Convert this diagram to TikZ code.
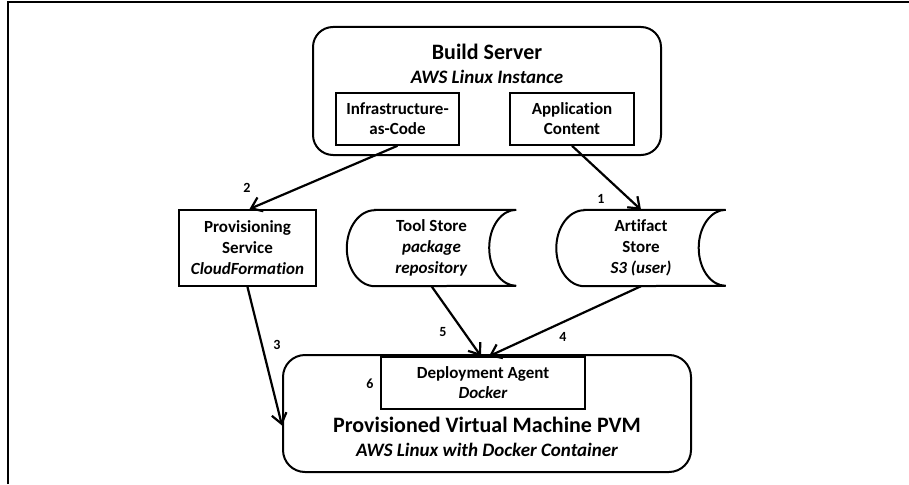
\documentclass[tikz,border=0pt]{standalone}
\usepackage{fontspec}
\setmainfont{Carlito}[Ligatures=NoCommon]
\usetikzlibrary{arrows.meta,positioning}

\begin{document}
\begin{tikzpicture}[x=1pt, y=1pt,
    server/.style={draw, line width=2pt, rounded corners=20pt, inner sep=0pt},
    unit/.style={draw, line width=1.6pt, inner sep=0pt, align=center, font=\fontsize{17}{20}\selectfont\bfseries},
    store/.style={inner sep=0pt, minimum width=169pt, minimum height=76pt, align=center, font=\fontsize{17}{21}\selectfont\bfseries},
    flow/.style={-{Straight Barb[length=10pt, width=15pt]}, line width=2.2pt},
    stepnum/.style={font=\fontsize{14}{16}\selectfont\bfseries},
    title/.style={align=center, font=\fontsize{22}{25}\selectfont\bfseries},
    subtitle/.style={font=\fontsize{19}{22}\selectfont\bfseries\itshape}
]
    \useasboundingbox (0,0) rectangle (909,-484);
    \draw[line width=2pt] (8,-484) -- (8,-2) -- (909,-2);

    % build server
    \node[server, minimum width=348pt, minimum height=128pt] (build) at (487,-91) {};
    \node[title] (buildtitle) at (487,-52) {Build Server};
    \node[subtitle] (buildsub) at (487,-77) {AWS Linux Instance};
    \node[unit, minimum width=123pt, minimum height=52pt] (iac) at (397.5,-119) {Infrastructure-\\as-Code};
    \node[unit, minimum width=124pt, minimum height=52pt] (app) at (572,-119) {Application\\Content};

    % middle row
    \node[unit, minimum width=137pt, minimum height=76pt, line width=2pt, font=\fontsize{17}{21}\selectfont\bfseries] (prov) at (247.5,-248) {Provisioning\\Service\\\textit{CloudFormation}};
    \node[store] (tool) at (431.5,-248) {Tool Store\\\textit{package}\\\textit{repository}};
    \node[store] (art) at (641,-248) {Artifact\\Store\\\textit{S3 (user)}};
    \foreach \s in {tool,art}
        \draw[line width=2pt] ([xshift=28pt]\s.north west) -- (\s.north east)
            arc[start angle=90, end angle=270, x radius=27pt, y radius=38pt]
            -- ([xshift=28pt]\s.south west)
            arc[start angle=270, end angle=90, x radius=28pt, y radius=38pt] -- cycle;

    % provisioned vm
    \node[server, minimum width=408pt, minimum height=117pt, rounded corners=22pt] (pvm) at (487,-413.5) {};
    \node[unit, minimum width=204pt, minimum height=52pt] (agent) at (483,-383) {Deployment Agent\\\textit{Docker}};
    \node[title] (pvmtitle) at (487,-425) {Provisioned Virtual Machine PVM};
    \node[subtitle] (pvmsub) at (487,-450) {AWS Linux with Docker Container};

    \draw[flow] (iac.south) -- ([xshift=2pt]prov.north);
    \draw[flow] (app.south) -- (art.north);
    \draw[flow] (prov.south) -- ([yshift=-12pt]pvm.west);
    \draw[flow] (tool.south) -- ([xshift=-2pt]agent.north);
    \draw[flow] (art.south) -- ([xshift=6pt]agent.north);

    \node[stepnum] (s1) at (601,-199) {1};
    \node[stepnum] (s2) at (247,-188) {2};
    \node[stepnum] (s3) at (277,-345) {3};
    \node[stepnum] (s4) at (563,-337) {4};
    \node[stepnum] (s5) at (443,-332) {5};
    \node[stepnum] (s6) at (370,-384) {6};
\end{tikzpicture}
\end{document}
